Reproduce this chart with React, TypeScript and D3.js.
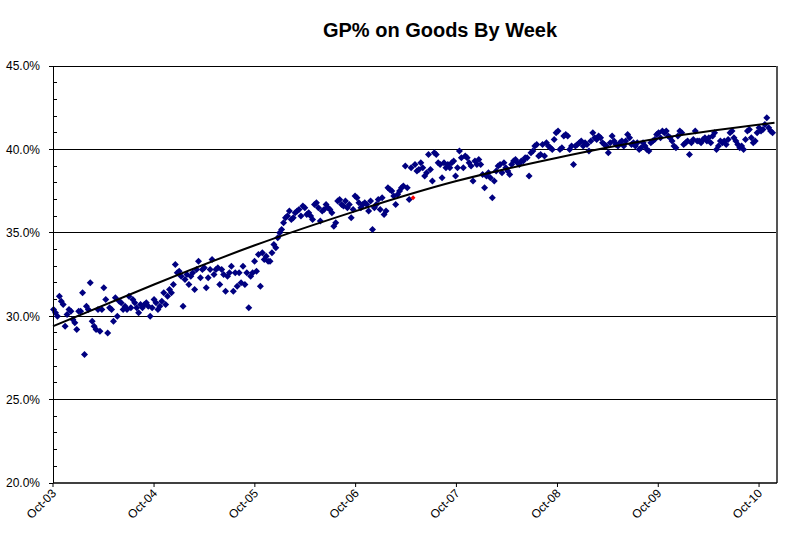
import React, { useRef, useEffect } from "react";
import * as d3 from "d3";

// weekly GP% readings, first week ending 2003-10-03
const firstWeek = new Date(2003, 9, 3);

const gp2003 = [
  30.4, 30.2, 30.0, 31.2, 30.9, 30.7, 29.4, 30.1, 30.4, 30.3,
  29.8, 29.6, 29.2, 30.3, 30.3, 31.4, 27.7, 30.6, 30.4, 32.0,
  29.7, 29.4, 29.2, 30.4, 29.1, 30.4, 31.7, 31.0, 29.0, 30.5,
  30.4, 29.7, 31.1, 30.0, 30.9, 30.8, 30.4, 30.6, 30.4, 31.2,
  30.5, 31.0, 30.8, 30.5, 30.2, 30.7, 30.5, 30.7, 30.8, 30.6,
  30.0, 30.5, 31.0, 30.8, 30.4, 30.6, 30.9, 31.4, 30.7, 31.2,
];
const gp2004 = [
  31.6, 31.4, 31.9, 33.1, 32.6, 32.7, 32.4, 30.6, 32.2, 32.5,
  31.9, 32.4, 32.6, 31.6, 32.8, 33.3, 32.3, 32.8, 32.9, 31.7,
  32.3, 32.8, 33.4, 32.5, 32.8, 32.9, 31.9, 32.8, 32.5, 31.5,
  32.4, 32.6, 33.0, 31.5, 32.6, 31.8, 32.6, 32.0, 33.0, 31.9,
  32.6, 30.5, 32.4, 32.6, 33.3, 32.7, 33.7, 31.8, 33.8, 33.4,
  33.6, 33.3, 33.3, 33.8, 34.3, 34.1, 34.7, 35.0, 35.2, 35.6,
  35.9,
];
const gp2005 = [
  36.0, 36.3, 35.8, 35.9, 36.2, 36.3, 36.4, 36.0, 36.6, 36.5,
  36.1, 36.2, 36.0, 35.8, 36.7, 36.8, 36.5, 35.7, 36.3, 36.4,
  36.7, 36.5, 36.4, 36.2, 35.4, 35.6, 36.9, 37.0, 36.7, 36.6,
  36.9, 36.5, 36.7, 35.9, 36.4, 37.2, 37.1, 36.8, 36.5, 36.7,
  36.8, 36.7, 36.3, 36.9, 35.2, 36.5, 36.7, 37.0, 36.4, 37.1,
  36.1, 36.3, 37.7, 37.6, 37.5, 37.2, 36.7, 37.3, 37.5, 37.7,
  37.8, 39.0,
];
const gp2007 = [
  37.7, 37.0, 38.9, 37.1, 39.1, 38.7, 38.8, 39.2, 38.9, 38.4,
  38.6, 39.7, 38.8, 38.1, 39.8, 39.7, 39.2, 39.1, 38.3, 39.2,
  38.9, 39.1, 38.9, 39.2, 39.3, 38.4, 38.9, 39.9, 39.5, 38.9,
  39.6, 39.5, 39.2, 39.0, 38.1, 39.3, 39.1, 39.4, 39.1, 38.5,
  37.7, 38.4, 38.6, 38.3, 37.1, 38.1, 38.7, 39.0, 39.1, 38.6,
  39.2, 38.9, 38.7, 38.5, 39.1, 39.3, 39.4, 39.2, 39.1, 39.3,
  39.3, 39.5,
];
const gp2008 = [
  39.5, 38.4, 39.8, 39.9, 40.2, 40.3, 39.6, 39.7, 40.3, 39.6,
  40.4, 40.2, 40.1, 40.0, 40.6, 41.0, 41.1, 40.0, 40.1, 40.8,
  40.9, 40.8, 40.0, 40.2, 39.1, 40.2, 40.3, 40.4, 40.5, 40.2,
  40.4, 40.3, 39.9, 40.5, 41.0, 40.7, 40.6, 40.8, 40.7, 40.4,
  40.3, 40.2, 39.8, 40.4, 40.8, 40.5, 40.3, 40.2, 40.4, 40.5,
  40.2, 40.5, 40.9, 40.7, 40.3, 40.4, 40.2, 40.4, 40.0, 40.1,
  40.4,
];
const gp2009 = [
  40.2, 40.0, 39.9, 40.4, 40.5, 40.6, 40.9, 41.0, 40.7, 41.1,
  41.0, 41.1, 40.8, 40.7, 40.5, 40.2, 40.1, 40.8, 41.1, 41.0,
  40.3, 40.4, 40.5, 39.7, 40.4, 40.6, 41.1, 40.5, 40.5, 40.4,
  40.6, 40.7, 40.5, 40.7, 40.4, 40.8, 41.0, 40.0, 40.2, 40.5,
  40.4, 40.5, 40.3, 40.6, 41.0, 41.1, 40.7, 40.5, 40.3, 40.1,
  40.2, 40.0, 40.6, 41.1, 41.2, 40.7, 40.4, 40.5, 41.0, 41.3,
  41.1, 41.2, 41.5, 41.9, 41.3, 41.1, 41.0,
];
const gpValues = [...gp2003, ...gp2004, ...gp2005, ...gp2007, ...gp2008, ...gp2009];
// the one week plotted in red
const highlightWeek = 186;

// trendline (each October, then the last week)
const trendDates = [
  new Date(2003, 9, 1), new Date(2004, 9, 1), new Date(2005, 9, 1), new Date(2006, 9, 1),
  new Date(2007, 9, 1), new Date(2008, 9, 1), new Date(2009, 9, 1), new Date(2010, 10, 26),
];
const trendPct = [29.4, 31.9, 34.25, 36.3, 38.1, 39.5, 40.65, 41.6];

const yTicks = [20, 25, 30, 35, 40, 45];
const xTickLabels = ["Oct-03", "Oct-04", "Oct-05", "Oct-06", "Oct-07", "Oct-08", "Oct-09", "Oct-10"];

const W = 800;
const H = 547;
const font = "'Liberation Sans', Arial, sans-serif";

export default function App() {
  const svgRef = useRef<SVGSVGElement>(null);

  useEffect(() => {
    document.body.style.margin = "0";
    const svg = d3.select(svgRef.current);
    svg.selectAll("*").remove();

    const margin = { top: 66, right: 23, bottom: 64, left: 53 };
    const innerW = W - margin.left - margin.right;
    const innerH = H - margin.top - margin.bottom;

    const data = gpValues.map((v, i) => ({
      date: d3.timeWeek.offset(firstWeek, i),
      week: i,
      value: v,
    }));

    const x = d3
      .scaleTime()
      .domain([new Date(2003, 9, 1), new Date(2010, 11, 5)])
      .range([0, innerW]);
    const y = d3.scaleLinear().domain([20, 45]).range([innerH, 0]);

    const g = svg.append("g").attr("transform", `translate(${margin.left},${margin.top})`);

    // title
    svg
      .append("text")
      .attr("x", 440)
      .attr("y", 37)
      .attr("text-anchor", "middle")
      .attr("font-family", font)
      .attr("font-weight", "bold")
      .attr("font-size", "20px")
      .text("GP% on Goods By Week");

    // gridlines
    g.selectAll(".grid")
      .data(yTicks.filter((t) => t > 20))
      .enter()
      .append("line")
      .attr("x1", 0)
      .attr("x2", innerW)
      .attr("y1", (d) => y(d))
      .attr("y2", (d) => y(d))
      .attr("stroke", "#000")
      .attr("stroke-width", 1)
      .attr("shape-rendering", "crispEdges");

    // right border of plot area
    g.append("line")
      .attr("x1", innerW)
      .attr("x2", innerW)
      .attr("y1", 0)
      .attr("y2", innerH)
      .attr("stroke", "#555")
      .attr("stroke-width", 2);

    // points
    const diamond = (r: number) => `M0,${-r}L${r},0L0,${r}L${-r},0Z`;
    g.selectAll(".pt")
      .data(data)
      .enter()
      .append("path")
      .attr("d", (d) => diamond(d.week === highlightWeek ? 2.4 : 3.5))
      .attr("transform", (d) => `translate(${x(d.date)},${y(d.value)})`)
      .attr("fill", (d) => (d.week === highlightWeek ? "#ff0000" : "#000080"));

    // trendline
    const line = d3
      .line<number>()
      .x((_, i) => x(trendDates[i]))
      .y((d) => y(d))
      .curve(d3.curveNatural);
    g.append("path")
      .datum(trendPct)
      .attr("d", line)
      .attr("fill", "none")
      .attr("stroke", "#000")
      .attr("stroke-width", 2);

    // y axis
    const yAxis = g.append("g");
    yAxis
      .append("line")
      .attr("x1", 0)
      .attr("x2", 0)
      .attr("y1", 0)
      .attr("y2", innerH)
      .attr("stroke", "#000")
      .attr("shape-rendering", "crispEdges");
    yAxis
      .selectAll(".minor")
      .data(d3.range(20, 45, 1).filter((v) => v % 5 !== 0))
      .enter()
      .append("line")
      .attr("x1", 0)
      .attr("x2", 4)
      .attr("y1", (d) => y(d))
      .attr("y2", (d) => y(d))
      .attr("stroke", "#000")
      .attr("shape-rendering", "crispEdges");
    yAxis
      .selectAll(".major")
      .data(yTicks)
      .enter()
      .append("line")
      .attr("x1", -4)
      .attr("x2", 0)
      .attr("y1", (d) => y(d))
      .attr("y2", (d) => y(d))
      .attr("stroke", "#000")
      .attr("shape-rendering", "crispEdges");
    yAxis
      .selectAll(".lbl")
      .data(yTicks)
      .enter()
      .append("text")
      .attr("x", -13)
      .attr("y", (d) => y(d))
      .attr("dy", "0.36em")
      .attr("text-anchor", "end")
      .attr("font-family", font)
      .attr("font-size", "12px")
      .text((d) => d.toFixed(1) + "%");

    // x axis
    const xTicks = xTickLabels.map((_, i) => new Date(2003 + i, 9, 1));
    const xAxis = g.append("g").attr("transform", `translate(0,${innerH})`);
    xAxis
      .append("line")
      .attr("x1", 0)
      .attr("x2", innerW)
      .attr("stroke", "#000")
      .attr("stroke-width", 1.5);
    xAxis
      .selectAll(".tk")
      .data(xTicks)
      .enter()
      .append("line")
      .attr("x1", (d) => x(d))
      .attr("x2", (d) => x(d))
      .attr("y1", 0)
      .attr("y2", 4)
      .attr("stroke", "#000");
    xAxis
      .selectAll(".lbl")
      .data(xTicks)
      .enter()
      .append("text")
      .attr("transform", (d) => `translate(${x(d) + 4},${11}) rotate(-45)`)
      .attr("text-anchor", "end")
      .attr("font-family", font)
      .attr("font-size", "12px")
      .text((_, i) => xTickLabels[i]);
  }, []);

  return <svg ref={svgRef} width={W} height={H} style={{ display: "block", background: "#fff" }} />;
}
